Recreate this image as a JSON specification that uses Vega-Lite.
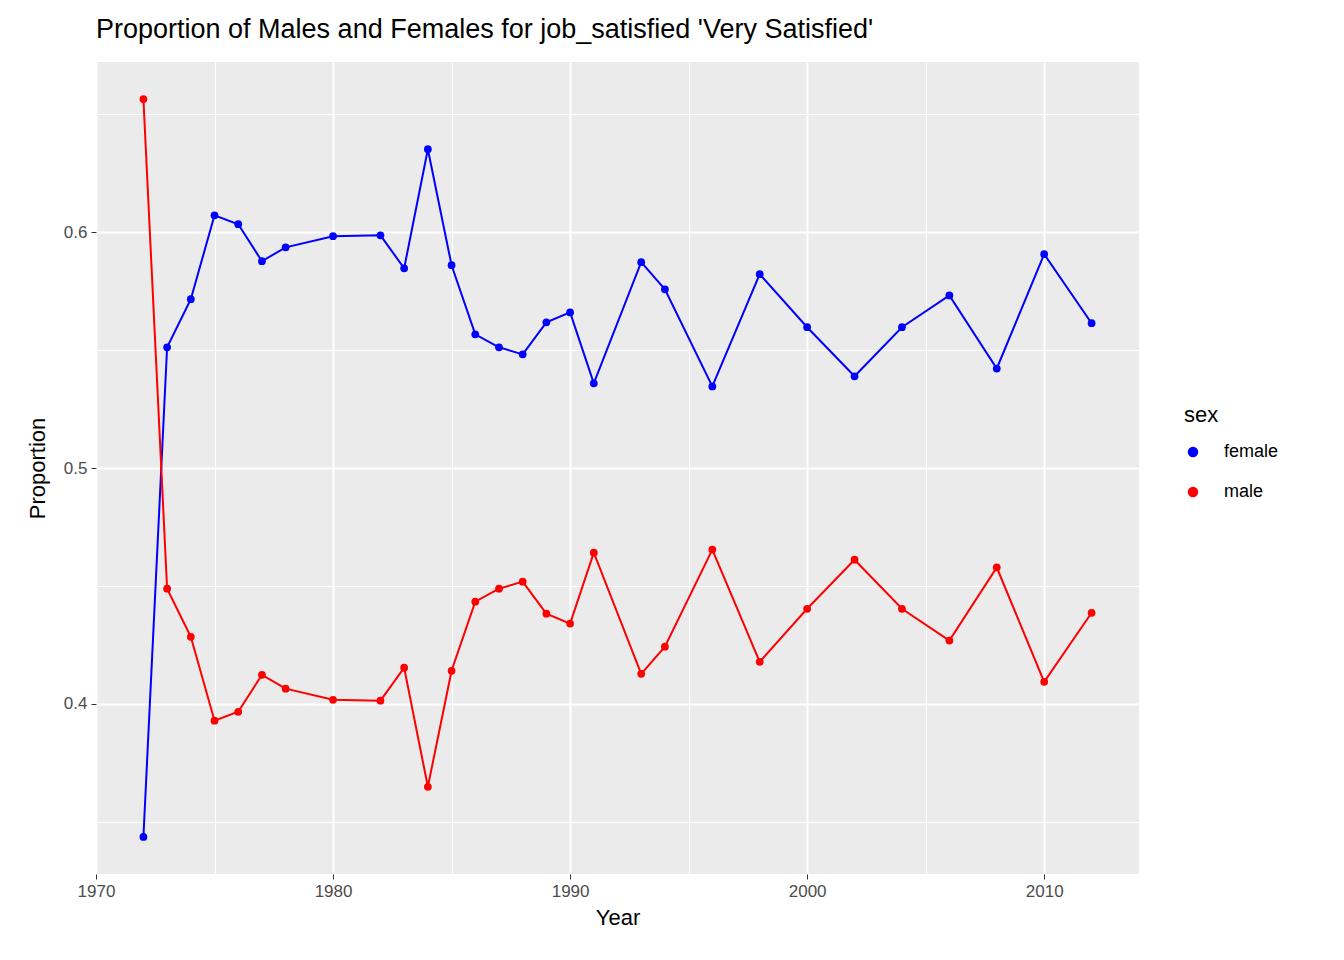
{
  "$schema": "https://vega.github.io/schema/vega-lite/v6.json",
  "width": 1043,
  "height": 812,
  "autosize": "none",
  "padding": {"left": 96, "top": 62, "right": 205, "bottom": 86},
  "background": "white",
  "title": {"text": "Proportion of Males and Females for job_satisfied 'Very Satisfied'", "anchor": "start", "frame": "group", "font": "Liberation Sans", "fontSize": 27, "fontWeight": "normal", "color": "black", "offset": 18},
  "config": {"view": {"fill": "#EBEBEB", "stroke": null}},
  "data": {"values": [
    {"year": 1972, "sex": "female", "p": 0.3435}, {"year": 1972, "sex": "male", "p": 0.6565},
    {"year": 1973, "sex": "female", "p": 0.5512}, {"year": 1973, "sex": "male", "p": 0.4488},
    {"year": 1974, "sex": "female", "p": 0.5716}, {"year": 1974, "sex": "male", "p": 0.4284},
    {"year": 1975, "sex": "female", "p": 0.6072}, {"year": 1975, "sex": "male", "p": 0.3928},
    {"year": 1976, "sex": "female", "p": 0.6034}, {"year": 1976, "sex": "male", "p": 0.3966},
    {"year": 1977, "sex": "female", "p": 0.5877}, {"year": 1977, "sex": "male", "p": 0.4123},
    {"year": 1978, "sex": "female", "p": 0.5936}, {"year": 1978, "sex": "male", "p": 0.4064},
    {"year": 1980, "sex": "female", "p": 0.5983}, {"year": 1980, "sex": "male", "p": 0.4017},
    {"year": 1982, "sex": "female", "p": 0.5987}, {"year": 1982, "sex": "male", "p": 0.4013},
    {"year": 1983, "sex": "female", "p": 0.5847}, {"year": 1983, "sex": "male", "p": 0.4153},
    {"year": 1984, "sex": "female", "p": 0.6352}, {"year": 1984, "sex": "male", "p": 0.3648},
    {"year": 1985, "sex": "female", "p": 0.5860}, {"year": 1985, "sex": "male", "p": 0.4140},
    {"year": 1986, "sex": "female", "p": 0.5567}, {"year": 1986, "sex": "male", "p": 0.4433},
    {"year": 1987, "sex": "female", "p": 0.5512}, {"year": 1987, "sex": "male", "p": 0.4488},
    {"year": 1988, "sex": "female", "p": 0.5482}, {"year": 1988, "sex": "male", "p": 0.4518},
    {"year": 1989, "sex": "female", "p": 0.5618}, {"year": 1989, "sex": "male", "p": 0.4382},
    {"year": 1990, "sex": "female", "p": 0.5660}, {"year": 1990, "sex": "male", "p": 0.4340},
    {"year": 1991, "sex": "female", "p": 0.5359}, {"year": 1991, "sex": "male", "p": 0.4641},
    {"year": 1993, "sex": "female", "p": 0.5873}, {"year": 1993, "sex": "male", "p": 0.4127},
    {"year": 1994, "sex": "female", "p": 0.5758}, {"year": 1994, "sex": "male", "p": 0.4242},
    {"year": 1996, "sex": "female", "p": 0.5346}, {"year": 1996, "sex": "male", "p": 0.4654},
    {"year": 1998, "sex": "female", "p": 0.5822}, {"year": 1998, "sex": "male", "p": 0.4178},
    {"year": 2000, "sex": "female", "p": 0.5597}, {"year": 2000, "sex": "male", "p": 0.4403},
    {"year": 2002, "sex": "female", "p": 0.5389}, {"year": 2002, "sex": "male", "p": 0.4611},
    {"year": 2004, "sex": "female", "p": 0.5597}, {"year": 2004, "sex": "male", "p": 0.4403},
    {"year": 2006, "sex": "female", "p": 0.5732}, {"year": 2006, "sex": "male", "p": 0.4268},
    {"year": 2008, "sex": "female", "p": 0.5422}, {"year": 2008, "sex": "male", "p": 0.4578},
    {"year": 2010, "sex": "female", "p": 0.5907}, {"year": 2010, "sex": "male", "p": 0.4093},
    {"year": 2012, "sex": "female", "p": 0.5614}, {"year": 2012, "sex": "male", "p": 0.4386}
  ]},
  "mark": {"type": "line", "strokeWidth": 2, "point": {"filled": true, "size": 60, "opacity": 1}},
  "encoding": {
    "x": {"field": "year", "type": "quantitative", "title": "Year",
      "scale": {"domain": [1970, 2014], "nice": false, "zero": false},
      "axis": {"values": [1970, 1975, 1980, 1985, 1990, 1995, 2000, 2005, 2010],
        "labelExpr": "datum.value % 10 === 0 ? datum.value : ''",
        "format": "d", "gridColor": "white",
        "gridWidth": {"expr": "datum.value % 10 === 0 ? 2 : 1"},
        "tickOpacity": {"expr": "datum.value % 10 === 0 ? 1 : 0"},
        "labelAlign": "center", "labelFlush": false, "labelBound": false, "labelOverlap": false,
        "domain": false, "tickColor": "#333333", "tickSize": 5,
        "labelFont": "Liberation Sans", "labelFontSize": 17, "labelColor": "#4D4D4D", "labelPadding": 4,
        "titleFont": "Liberation Sans", "titleFontSize": 22, "titleFontWeight": "normal", "titleColor": "black", "titlePadding": 8}},
    "y": {"field": "p", "type": "quantitative", "title": "Proportion",
      "scale": {"domain": [0.3278, 0.6722], "nice": false, "zero": false},
      "axis": {"values": [0.35, 0.4, 0.45, 0.5, 0.55, 0.6, 0.65],
        "labelExpr": "abs(datum.value * 10 - round(datum.value * 10)) < 0.01 ? format(datum.value, '.1f') : ''",
        "gridColor": "white",
        "gridWidth": {"expr": "abs(datum.value * 10 - round(datum.value * 10)) < 0.01 ? 2 : 1"},
        "tickOpacity": {"expr": "abs(datum.value * 10 - round(datum.value * 10)) < 0.01 ? 1 : 0"},
        "domain": false, "tickColor": "#333333", "tickSize": 5,
        "labelFont": "Liberation Sans", "labelFontSize": 17, "labelColor": "#4D4D4D", "labelPadding": 4,
        "titleFont": "Liberation Sans", "titleFontSize": 22, "titleFontWeight": "normal", "titleColor": "black", "titlePadding": 14}},
    "color": {"field": "sex", "type": "nominal",
      "scale": {"domain": ["female", "male"], "range": ["blue", "red"]},
      "legend": {"orient": "none", "legendX": 1088, "legendY": 343, "title": "sex",
        "titleFont": "Liberation Sans", "titleFontSize": 22, "titleFontWeight": "normal", "titleColor": "black", "titlePadding": 16,
        "labelFont": "Liberation Sans", "labelFontSize": 18, "labelColor": "black", "labelOffset": 22,
        "symbolType": "circle", "symbolSize": 80, "rowPadding": 22}}
  }
}
